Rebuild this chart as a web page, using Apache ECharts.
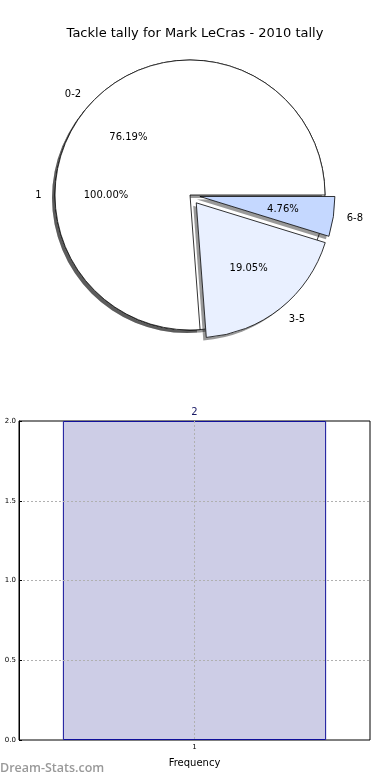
<!DOCTYPE html>
<html>
<head>
<meta charset="utf-8">
<script src="https://cdn.jsdelivr.net/npm/echarts@6/dist/echarts.min.js"></script>
<style>
html,body{margin:0;padding:0;background:#fff;}
#chart{width:390px;height:780px;}
</style>
</head>
<body>
<div id="chart"></div>
<script>
// ---- data ----
const titleText = 'Tackle tally for Mark LeCras - 2010 tally';
const pieCategories = ['0-2', '3-5', '6-8'];
const pieValues = [16, 4, 1];
const explodedCategories = ['3-5', '6-8'];
const barCategories = ['1'];
const barValues = [2];
const yTicks = [0, 0.5, 1.0, 1.5, 2.0];
const xAxisTitle = 'Frequency';
const watermark = 'Dream-Stats.com';

// ---- styles ----
const sliceColors = ['#ffffff', '#e9f0ff', '#c5d8ff'];
const FONT = 'DejaVu Sans';
const R = 135;
const CENTER = [190, 195];
const OFFSET = 10;

const borderStyle = {borderColor: '#000', borderWidth: 0.8};
const shadowStyle = {
  color: '#fff', borderWidth: 0,
  shadowColor: 'rgba(0,0,0,0.4)', shadowBlur: 0,
  shadowOffsetX: -3, shadowOffsetY: 3
};
const clearStyle = {color: 'rgba(0,0,0,0)', borderWidth: 0};

function pieData(kind) {
  return pieCategories.map((c, i) => {
    let st;
    if (kind === 'fill') st = Object.assign({color: sliceColors[i]}, borderStyle);
    else if (kind === 'shadow') st = Object.assign({}, shadowStyle);
    else st = Object.assign({}, clearStyle);
    return {name: c, value: pieValues[i], selected: explodedCategories.indexOf(c) >= 0, itemStyle: st};
  });
}
const innerData = barCategories.map((c, i) => ({name: c, value: barValues[i]}));

const outerLabel = {
  show: true, position: 'outside', formatter: '{b}',
  fontFamily: FONT, fontSize: 10, color: '#000',
  distanceToLabelLine: 0, alignTo: 'none'
};
const outerLabelLine = {show: false, length: R * 0.1, length2: 0};
const pctLabel = {
  show: true, position: 'inside',
  formatter: p => p.percent.toFixed(2) + '%',
  fontFamily: FONT, fontSize: 10, color: '#000'
};
const commonPie = {
  type: 'pie', center: CENTER, startAngle: 0, clockwise: false,
  avoidLabelOverlap: false, animation: false,
  emphasis: {disabled: true}, selectedOffset: OFFSET
};
function pie(extra) { return Object.assign({}, commonPie, extra); }

const chart = echarts.init(document.getElementById('chart'), null, {renderer: 'canvas'});
chart.setOption({
  animation: false,
  backgroundColor: '#fff',
  title: {
    text: titleText, left: 'center', top: 22,
    textStyle: {fontFamily: FONT, fontSize: 13, fontWeight: 'normal', color: '#000'}
  },
  graphic: [{
    type: 'text', left: 0, top: 762,
    style: {text: watermark, fontFamily: 'Open Sans', fontSize: 12.5, fontWeight: 600, fill: '#999'}
  }],
  grid: {
    left: 19, right: 20, top: 421, bottom: 40,
    show: true, borderColor: '#000', borderWidth: 1, containLabel: false
  },
  xAxis: [{
    type: 'category', data: barCategories, gridIndex: 0,
    axisLine: {show: false}, axisTick: {show: true, alignWithLabel: true, inside: true, length: 3, lineStyle: {color: '#000'}},
    axisLabel: {fontFamily: FONT, fontSize: 7, color: '#000', margin: 4},
    name: xAxisTitle, nameLocation: 'middle', nameGap: 18,
    nameTextStyle: {fontFamily: FONT, fontSize: 10, color: '#000'},
    splitLine: {show: false}
  }, {
    type: 'value', min: 0, max: 2, interval: 1, gridIndex: 0, z: 5,
    axisLine: {show: false}, axisTick: {show: false}, axisLabel: {show: false},
    splitLine: {show: true, showMinLine: false, showMaxLine: false, lineStyle: {color: '#b0b0b0', type: [2, 2], width: 1}}
  }],
  yAxis: [{
    type: 'value', min: 0, max: 2, interval: 0.5, z: 5,
    axisLine: {show: true, lineStyle: {color: '#000'}},
    axisTick: {show: true, inside: true, length: 3, lineStyle: {color: '#000'}},
    axisLabel: {fontFamily: FONT, fontSize: 7, color: '#000', margin: 3, formatter: v => v.toFixed(1)},
    splitLine: {show: true, showMinLine: false, showMaxLine: false, lineStyle: {color: '#b0b0b0', type: [2, 2], width: 1}}
  }],
  series: [
    pie({name: 'innerShadow', radius: [0, R], data: innerData, silent: true,
      itemStyle: Object.assign({}, shadowStyle), label: {show: false}, labelLine: {show: false}, z: 1}),
    pie({name: 'inner', radius: [0, R], data: innerData,
      itemStyle: Object.assign({color: '#fff'}, borderStyle),
      label: outerLabel, labelLine: outerLabelLine, z: 2}),
    pie({name: 'innerPct', radius: [0, R * 1.2], data: innerData, silent: true,
      itemStyle: Object.assign({}, clearStyle), label: pctLabel, labelLine: {show: false}, z: 6}),
    pie({name: 'mainShadow', radius: [0, R], data: pieData('shadow'), silent: true,
      selectedMode: 'multiple', select: {itemStyle: Object.assign({}, shadowStyle)},
      label: {show: false}, labelLine: {show: false}, z: 3}),
    pie({name: 'main', radius: [0, R], data: pieData('fill'),
      selectedMode: 'multiple', select: {itemStyle: Object.assign({}, borderStyle)},
      label: outerLabel, labelLine: outerLabelLine, z: 4}),
    pie({name: 'mainPct', radius: [0, R * 1.2], data: pieData('clear'), silent: true,
      selectedMode: 'multiple', select: {itemStyle: Object.assign({}, clearStyle)},
      label: pctLabel, labelLine: {show: false}, z: 6}),
    {
      type: 'bar', xAxisIndex: 0, yAxisIndex: 0, data: barValues,
      barWidth: '75%', z: 2,
      itemStyle: {color: '#cdcde6', borderColor: '#10109a', borderWidth: 1},
      label: {show: true, position: 'top', distance: 4, fontFamily: FONT, fontSize: 10, color: '#1a1a66'},
      emphasis: {disabled: true}
    }
  ]
});
</script>
</body>
</html>
